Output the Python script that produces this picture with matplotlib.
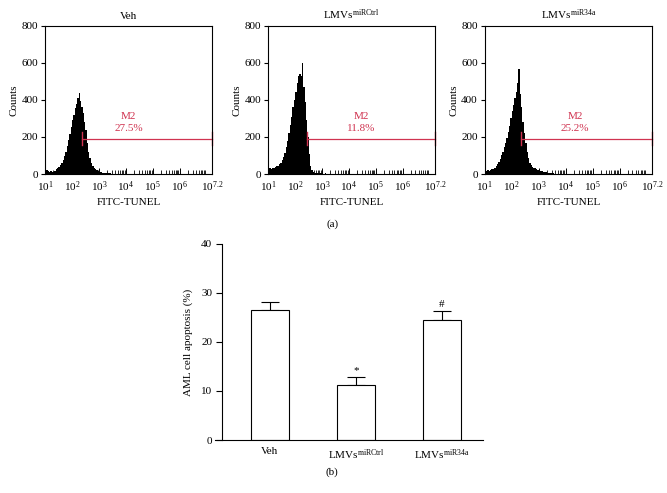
import numpy as np
import matplotlib
matplotlib.use('Agg')
from matplotlib import pyplot as plt
from matplotlib.ticker import LogLocator, NullFormatter

plt.rcParams['font.family'] = ['Liberation Serif', 'DejaVu Serif']
plt.rcParams['mathtext.fontset'] = 'custom'
plt.rcParams['mathtext.rm'] = 'Liberation Serif'
plt.rcParams['mathtext.it'] = 'Liberation Serif:italic'
plt.rcParams['font.size'] = 8

# ---- histogram data (log10 FITC-TUNEL bin start, counts) ----
log_bins = [1.00 + 0.05 * i for i in range(51)]

counts_veh = [20, 22, 15, 12, 14, 10, 12, 18, 25, 30,
              38, 50, 58, 75, 95, 120, 150, 185, 215, 255,
              290, 320, 355, 380, 410, 435, 395, 360, 330, 280,
              235, 170, 120, 85, 60, 45, 35, 25, 20, 15,
              12, 9, 7, 6, 5, 4, 4, 3, 3, 2, 2]
counts_ctrl = [30, 35, 28, 32, 30, 38, 42, 45, 55, 62,
               75, 90, 115, 145, 180, 220, 265, 310, 360, 400,
               445, 490, 530, 540, 530, 600, 470, 390, 290, 200,
               110, 45, 20, 12, 8, 6, 5, 4, 4, 3,
               3, 2, 3, 2, 2, 1, 1, 1, 1, 1, 0]
counts_34a = [15, 18, 20, 15, 22, 25, 28, 35, 45, 55,
              65, 80, 100, 120, 145, 170, 195, 225, 260, 300,
              340, 375, 410, 440, 490, 565, 430, 360, 280, 220,
              170, 120, 85, 62, 50, 40, 35, 30, 25, 22,
              20, 17, 14, 12, 10, 9, 8, 7, 6, 5, 5]

hist_titles = ['Veh', r'LMVs$^{\mathrm{miRCtrl}}$', r'LMVs$^{\mathrm{miR34a}}$']
hist_counts = [counts_veh, counts_ctrl, counts_34a]
m2_start = [2.39, 2.43, 2.35]     # log10 start of M2 gate
m2_level = 190
m2_pct = ['27.5%', '11.8%', '25.2%']
m2_text_x = [4.1, 4.45, 4.35]

# ---- bar chart data ----
groups = ['Veh', r'LMVs$^{\mathrm{miRCtrl}}$', r'LMVs$^{\mathrm{miR34a}}$']
apoptosis = [26.5, 11.3, 24.4]
apoptosis_err = [1.6, 1.5, 2.0]
marks = ['', '*', '#']

red = '#d03350'

fig = plt.figure(figsize=(6.67, 4.93), dpi=100)

axes_pos = [[0.0675, 0.647, 0.2504, 0.3008],
            [0.4023, 0.647, 0.2495, 0.3008],
            [0.7267, 0.647, 0.2508, 0.3008]]

for k in range(3):
    ax = fig.add_axes(axes_pos[k])
    edges = 10 ** np.array(log_bins + [log_bins[-1] + 0.05])
    c = np.array(hist_counts[k] + [hist_counts[k][-1]])
    ax.fill_between(edges, 0, c, step='post', color='black', lw=0)
    ax.set_xscale('log')
    ax.set_xlim(10, 10 ** 7.2)
    ax.set_ylim(0, 800)
    ax.set_yticks([0, 200, 400, 600, 800])
    xt = [10 ** i for i in range(1, 7)] + [10 ** 7.2]
    ax.set_xticks(xt)
    ax.set_xticklabels([r'$10^{%d}$' % i for i in range(1, 7)] + [r'$10^{7.2}$'])
    ax.xaxis.set_minor_locator(LogLocator(base=10, subs=np.arange(2, 10), numticks=20))
    ax.xaxis.set_minor_formatter(NullFormatter())
    ax.tick_params(axis='x', which='major', direction='in', length=4, width=0.7, pad=4, labelsize=8)
    ax.tick_params(axis='x', which='minor', direction='in', length=3, width=0.6)
    ax.tick_params(axis='y', direction='out', length=3, width=0.8, labelsize=8, pad=2)
    for s in ax.spines.values():
        s.set_linewidth(0.8)
    ax.set_xlabel('FITC-TUNEL', labelpad=3)
    ax.set_ylabel('Counts', labelpad=2)
    ax.set_title(hist_titles[k], fontsize=8, pad=5)

    # M2 gate marker
    x0 = 10 ** m2_start[k]
    x1 = 10 ** 7.2
    ax.plot([x0, x1], [m2_level, m2_level], color=red, lw=0.9, clip_on=False)
    ax.plot([x0, x0], [m2_level - 35, m2_level + 35], color=red, lw=1.0, clip_on=False)
    ax.plot([x1, x1], [m2_level - 35, m2_level + 35], color=red, lw=1.0, clip_on=False)
    ax.text(10 ** m2_text_x[k], 310, 'M2', color=red, ha='center', va='center', fontsize=8)
    ax.text(10 ** m2_text_x[k], 245, m2_pct[k], color=red, ha='center', va='center', fontsize=8)

fig.text(0.4993, 0.5456, '(a)', ha='center', va='center', fontsize=8)

# ---- bar chart ----
bx = fig.add_axes([0.3223, 0.1075, 0.4018, 0.3976])
pos = np.arange(len(groups))
bx.bar(pos, apoptosis, width=0.44, color='white', edgecolor='black', linewidth=0.8, zorder=2)
bx.errorbar(pos, apoptosis, yerr=[[0] * 3, apoptosis_err], fmt='none',
            ecolor='black', elinewidth=0.8, capsize=6.8, capthick=0.8, zorder=1)
for i in range(3):
    if marks[i]:
        bx.text(pos[i], apoptosis[i] + apoptosis_err[i] + 0.4, marks[i],
                ha='center', va='bottom', fontsize=8)
bx.set_xlim(-0.64, 2.48)
bx.set_ylim(0, 40)
bx.set_yticks([0, 10, 20, 30, 40])
bx.spines['top'].set_visible(False)
bx.spines['right'].set_visible(False)
bx.spines['left'].set_position(('data', -0.56))
bx.spines['left'].set_linewidth(0.8)
bx.spines['bottom'].set_linewidth(0.8)
bx.set_xticks(pos)
bx.set_xticklabels(groups)
bx.tick_params(axis='x', length=0, pad=5, labelsize=8)
bx.tick_params(axis='y', direction='out', length=4, width=0.8, labelsize=8, pad=3)
bx.set_ylabel('AML cell apoptosis (%)', labelpad=6)

fig.text(0.498, 0.0426, '(b)', ha='center', va='center', fontsize=8)

fig.savefig('out.png', dpi=100)
